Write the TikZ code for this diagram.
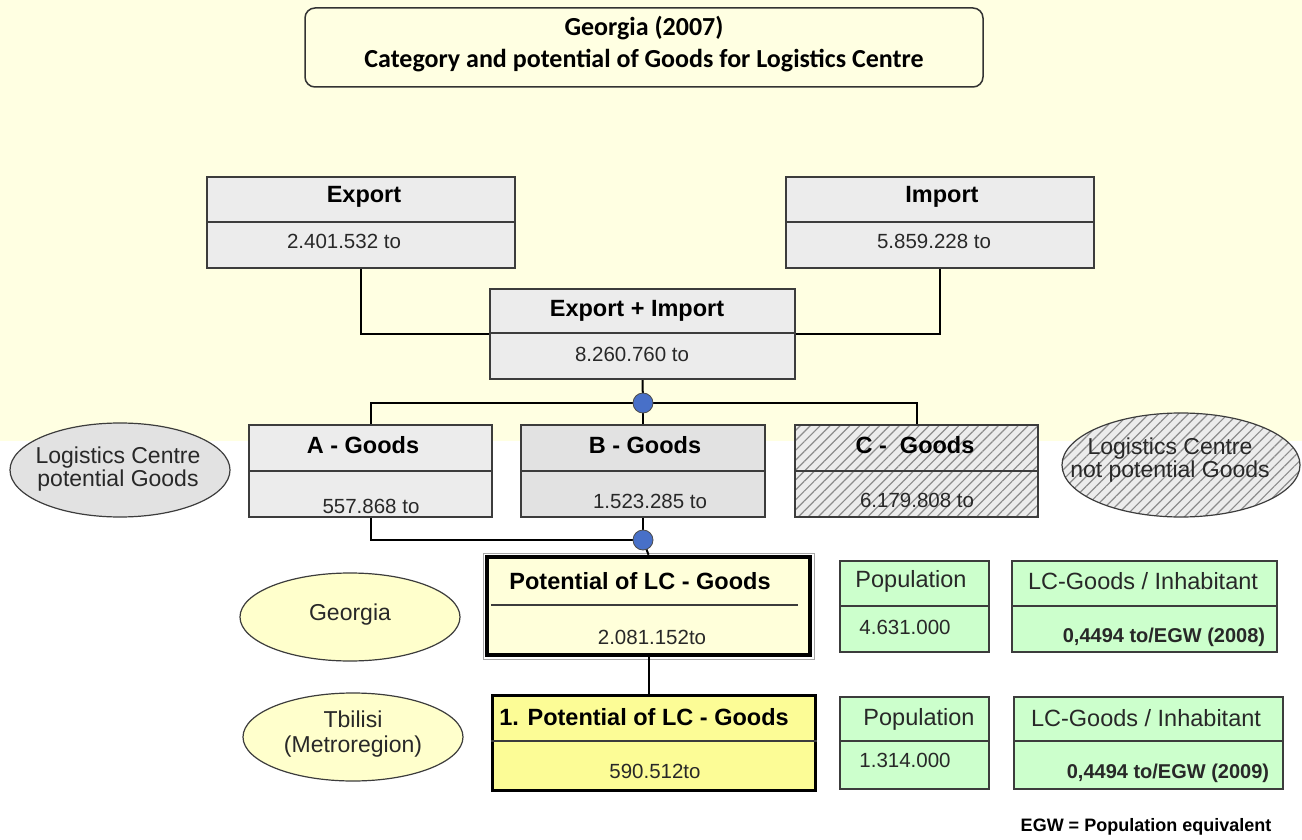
\documentclass[tikz,border=0pt]{standalone}
\usepackage{fontspec}
\setmainfont{Liberation Sans}
\newfontfamily\titlefont{Carlito}
\usetikzlibrary{shapes.geometric,patterns.meta}
\definecolor{bgyellow}{RGB}{255,255,226}
\definecolor{boxgray}{RGB}{236,236,236}
\definecolor{boxgrayb}{RGB}{226,226,226}
\definecolor{linegray}{RGB}{60,60,60}
\definecolor{potfill}{RGB}{255,255,218}
\definecolor{pot1fill}{RGB}{252,252,150}
\definecolor{greenfill}{RGB}{204,255,204}
\definecolor{ellyellow}{RGB}{255,255,204}
\definecolor{dotblue}{RGB}{72,112,200}
\definecolor{txt}{RGB}{40,40,40}
\tikzset{
  bx/.style={draw=linegray, line width=1.6pt, rectangle, inner sep=0pt},
  divl/.style={draw=linegray, line width=1.3pt},
  conn/.style={draw=black, line width=2pt},
  hd/.style={font=\bfseries\fontsize{23.5}{27}\selectfont, text=black, inner sep=0pt},
  hdr/.style={font=\fontsize{23.5}{27}\selectfont, text=txt, inner sep=0pt},
  val/.style={font=\fontsize{20.5}{24}\selectfont, text=txt, inner sep=0pt},
  valb/.style={font=\bfseries\fontsize{20}{24}\selectfont, text=txt, inner sep=0pt},
  hatch/.style={pattern={Lines[angle=45,distance=7pt,line width=1.2pt]}, pattern color=gray!90},
  jdot/.style={circle, fill=dotblue, draw=black!70, line width=0.8pt, minimum size=20pt, inner sep=0pt},
  ell/.style={ellipse, draw=linegray, line width=1.2pt, inner sep=0pt},
  elltext/.style={align=center, inner sep=0pt, font=\fontsize{23}{26}\selectfont, text=txt}
}
\begin{document}
\begin{tikzpicture}[x=1pt,y=-1pt]
\useasboundingbox (0,0) rectangle (1302,840);
\fill[white] (0,0) rectangle (1302,840);
\fill[bgyellow] (0,0) rectangle (1302,441);

% title
\node[draw=black!80, line width=1.5pt, rounded corners=10pt, fill=bgyellow, minimum width=678pt, minimum height=79pt] (titlebox) at (644,47.5) {};
\node[font=\titlefont\bfseries\fontsize{26}{32}\selectfont, align=center, inner sep=0pt] (titletext) at (644,44) {Georgia (2007)\\Category and potential of Goods for Logistics Centre};

% coordinates of junctions
\coordinate (j1) at (643,403);
\coordinate (j2) at (643,540);

% boxes
\node[bx, fill=boxgray, minimum width=308pt, minimum height=91pt] (exp) at (361,222.5) {};
\node[bx, fill=boxgray, minimum width=308pt, minimum height=91pt] (imp) at (940,222.5) {};
\node[bx, fill=boxgray, minimum width=305pt, minimum height=90pt, line width=2.2pt] (ei) at (642.5,334) {};
\node[bx, fill=boxgray, minimum width=243pt, minimum height=92pt] (ga) at (370.5,471) {};
\node[bx, fill=boxgrayb, minimum width=244pt, minimum height=92pt] (gb) at (643,471) {};
\node[bx, preaction={fill=boxgray}, hatch, minimum width=243pt, minimum height=92pt] (gc) at (916.5,471) {};

% connectors
\draw[conn] (exp.south) |- (ei.west);
\draw[conn] (imp.south) |- (ei.east);
\draw[conn] (ei.south) -- (j1);
\draw[conn] (ga.north) |- (j1) -| (gc.north);
\draw[conn] (j1) -- (gb.north);
\draw[conn] (ga.south) |- (j2);
\draw[conn] (gb.south) -- (j2);

\node[jdot] (dot1) at (j1) {};

% dividers
\draw[divl] (exp.west |- 0,222) -- (exp.east |- 0,222);
\draw[divl] (imp.west |- 0,222) -- (imp.east |- 0,222);
\draw[divl, line width=2pt] (ei.west |- 0,333) -- (ei.east |- 0,333);
\draw[divl] (ga.west |- 0,471) -- (ga.east |- 0,471);
\draw[divl] (gb.west |- 0,471) -- (gb.east |- 0,471);
\draw[divl] (gc.west |- 0,471) -- (gc.east |- 0,471);

% texts
\node[hd] (expt) at (364,197) {Export};
\node[val] (expv) at (344,241) {2.401.532 to};
\node[hd] (impt) at (942,197) {Import};
\node[val] (impv) at (934,241) {5.859.228 to};
\node[hd] (eit) at (637,311) {Export + Import};
\node[val] (eiv) at (632,354) {8.260.760 to};
\node[hd] (gat) at (363,445) {A - Goods};
\node[val] (gav) at (371,506) {557.868 to};
\node[hd] (gbt) at (645,445) {B - Goods};
\node[val] (gbv) at (650,501) {1.523.285 to};
\node[hd] (gct) at (915,445) {C -\ \ Goods};
\node[val] (gcv) at (917,500) {6.179.808 to};

% ellipses
\node[ell, fill=boxgrayb, minimum width=220pt, minimum height=94pt] (lcp) at (120,470) {};
\node[elltext] (lcpt) at (118,469) {Logistics Centre\\[-3pt]potential Goods};
\node[ell, preaction={fill=boxgray}, hatch, minimum width=238pt, minimum height=104pt] (lcn) at (1181,465) {};
\node[elltext] (lcnt) at (1170,460) {Logistics Centre\\[-3pt]not potential Goods};

% potential boxes
\node[draw=gray!70, line width=1pt, minimum width=331pt, minimum height=106pt, inner sep=0pt] (potouter) at (648.5,606) {};
\node[draw=black, line width=4.5pt, fill=potfill, minimum width=323pt, minimum height=98pt, inner sep=0pt] (pot) at (648.5,606) {};
\draw[conn] (j2) -- (pot.north);
\node[jdot] (dot2) at (j2) {};
\draw[divl] ([xshift=6pt]pot.west |- 0,605) -- ([xshift=-14pt]pot.east |- 0,605);
\node[hd] (pott) at (640,581) {Potential of LC - Goods};
\node[val] (potv) at (652,637) {2.081.152to};

\node[draw=black, line width=3pt, fill=pot1fill, minimum width=323pt, minimum height=95pt, inner sep=0pt] (pot1) at (653.5,742.5) {};
\draw[conn] (pot.south) -- (pot.south |- pot1.north);
\draw[divl] (pot1.west |- 0,741) -- (pot1.east |- 0,741);
\node[hd] (pot1t) at (644,717) {1. Potential of LC - Goods};
\node[val] (pot1v) at (655,771) {590.512to};

% green boxes
\node[bx, fill=greenfill, minimum width=149pt, minimum height=91pt] (pop1) at (914.5,606.5) {};
\node[bx, fill=greenfill, minimum width=265pt, minimum height=91pt] (lc1) at (1144.5,606.5) {};
\node[bx, fill=greenfill, minimum width=149pt, minimum height=92pt] (pop2) at (914.5,743) {};
\node[bx, fill=greenfill, minimum width=269pt, minimum height=92pt] (lc2) at (1148.5,743) {};
\draw[divl] (pop1.west |- 0,606) -- (pop1.east |- 0,606);
\draw[divl] (lc1.west |- 0,606) -- (lc1.east |- 0,606);
\draw[divl] (pop2.west |- 0,741) -- (pop2.east |- 0,741);
\draw[divl] (lc2.west |- 0,741) -- (lc2.east |- 0,741);
\node[hdr] (pop1t) at (911,581) {Population};
\node[val] (pop1v) at (905,627) {4.631.000};
\node[hdr] (lc1t) at (1143,581) {LC-Goods / Inhabitant};
\node[valb] (lc1v) at (1164,637) {0,4494 to/EGW (2008)};
\node[hdr] (pop2t) at (919,719) {Population};
\node[val] (pop2v) at (905,760) {1.314.000};
\node[hdr] (lc2t) at (1146,718) {LC-Goods / Inhabitant};
\node[valb] (lc2v) at (1168,773) {0,4494 to/EGW (2009)};

% region ellipses
\node[ell, fill=ellyellow, minimum width=220pt, minimum height=88pt] (geo) at (350,617) {};
\node[elltext] (geot) at (350,615) {Georgia};
\node[ell, fill=ellyellow, minimum width=220pt, minimum height=88pt] (tbl) at (353,737) {};
\node[elltext] (tblt) at (353,734) {Tbilisi\\[-1pt](Metroregion)};

% footnote
\node[font=\bfseries\fontsize{18}{21}\selectfont, inner sep=0pt] (egw) at (1146,827) {EGW = Population equivalent};
\end{tikzpicture}
\end{document}
